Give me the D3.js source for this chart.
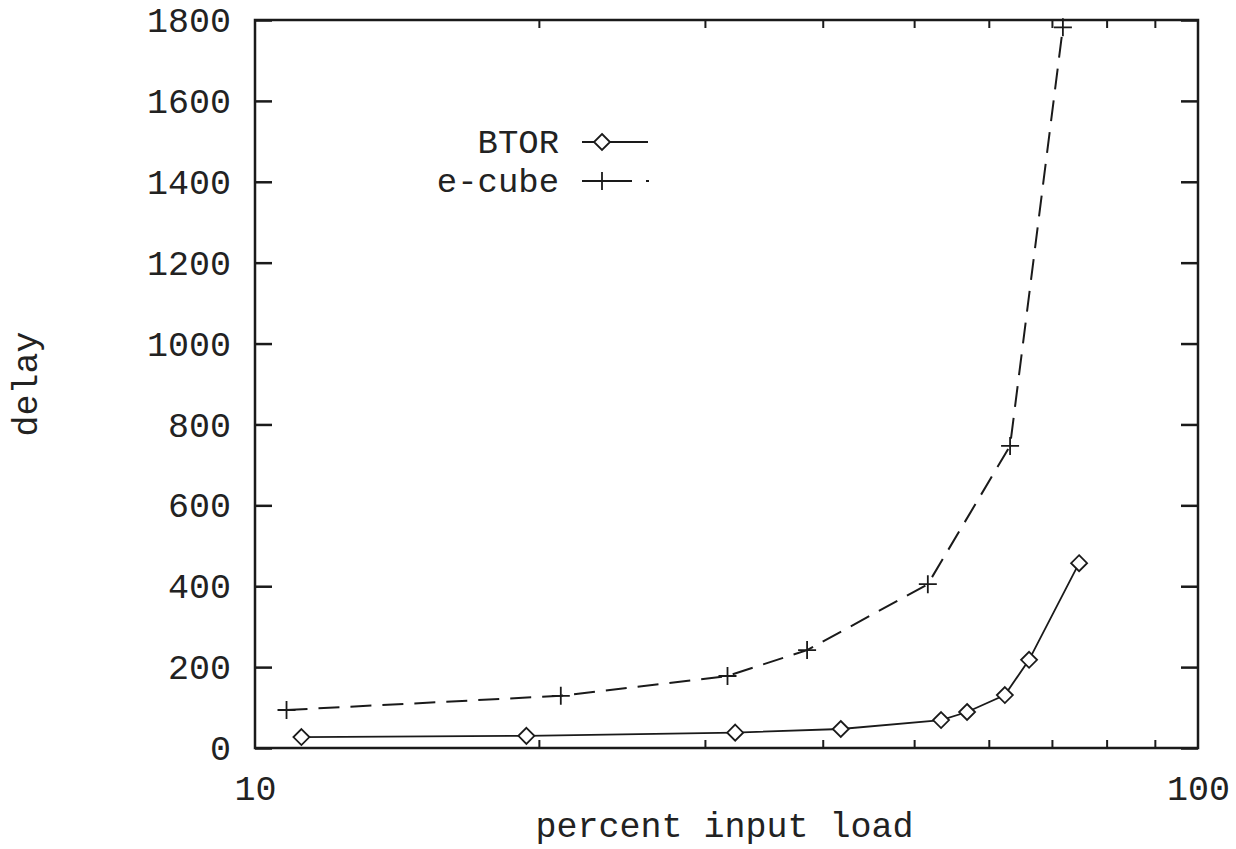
<!DOCTYPE html>
<html>
<head>
<meta charset="utf-8">
<script src="https://cdn.jsdelivr.net/npm/d3@7"></script>
<style>
  html, body { margin: 0; padding: 0; background: #fff; }
  svg { display: block; }
  text { font-family: "Liberation Mono", "Courier New", monospace; fill: #222; }
</style>
</head>
<body>
<svg id="chart" width="1236" height="849"></svg>
<script>
// ---- data ----
const btorLoad  = [11.2, 19.4, 32.3, 41.8, 53.4, 56.9, 62.4, 66.2, 74.8];
const btorDelay = [27, 30, 38, 47, 69, 89, 131, 218, 457];
const ecubeLoad  = [10.8, 21.1, 31.7, 38.5, 51.7, 63.2, 71.9];
const ecubeDelay = [94, 129, 178, 242, 405, 747, 1782];
const yTicks = [0, 200, 400, 600, 800, 1000, 1200, 1400, 1600, 1800];
const xMajorTicks = [10, 100];
const xMinorTicks = [20, 30, 40, 50, 60, 70, 80, 90];
const seriesNames = ["BTOR", "e-cube"];
const xTitle = "percent input load";
const yTitle = "delay";

// ---- layout ----
const L = 255, R = 1198, T = 20, B = 748;
const svg = d3.select("#chart");
const x = d3.scaleLog().domain([10, 100]).range([L, R]);
const y = d3.scaleLinear().domain([0, 1800]).range([B, T]);
const FS = 35;
const ink = "#1a1a1a";

// y axis left (inward ticks)
const yl = svg.append("g").attr("transform", `translate(${L},0)`)
  .call(d3.axisLeft(y).tickValues(yTicks).tickSize(-17).tickPadding(24).tickFormat(d3.format("d")));
yl.select(".domain").remove();
yl.selectAll("line").attr("stroke", ink).attr("stroke-width", 2.5);
yl.selectAll("text").attr("font-size", FS).attr("fill", "#222").attr("dy", "0.33em")
  .attr("font-family", "Liberation Mono");

// y axis right ticks
const yr = svg.append("g").attr("transform", `translate(${R},0)`)
  .call(d3.axisRight(y).tickValues(yTicks).tickSize(-17).tickFormat(""));
yr.select(".domain").remove();
yr.selectAll("line").attr("stroke", ink).attr("stroke-width", 2.5);

// x axis bottom
const xb = svg.append("g").attr("transform", `translate(0,${B})`)
  .call(d3.axisBottom(x).tickValues(xMinorTicks).tickSize(-8).tickFormat(""));
xb.select(".domain").remove();
xb.selectAll("line").attr("stroke", ink).attr("stroke-width", 2);
const xbl = svg.append("g").attr("transform", `translate(0,${B})`)
  .call(d3.axisBottom(x).tickValues(xMajorTicks).tickSize(0).tickPadding(27).tickFormat(d3.format("d")));
xbl.select(".domain").remove();
xbl.selectAll("text").attr("font-size", FS).attr("fill", "#222").attr("font-family", "Liberation Mono");

// x axis top ticks
const xt = svg.append("g").attr("transform", `translate(0,${T})`)
  .call(d3.axisTop(x).tickValues(xMinorTicks).tickSize(-8).tickFormat(""));
xt.select(".domain").remove();
xt.selectAll("line").attr("stroke", ink).attr("stroke-width", 2);

// frame
svg.append("rect").attr("x", L).attr("y", T).attr("width", R - L).attr("height", B - T)
  .attr("fill", "none").attr("stroke", ink).attr("stroke-width", 2.5);

// titles
svg.append("text").attr("x", (L + R) / 2 - 2).attr("y", 837).attr("text-anchor", "middle")
  .attr("font-size", FS).text(xTitle);
svg.append("text").attr("transform", `translate(37,${(T + B) / 2}) rotate(-90)`)
  .attr("text-anchor", "middle").attr("font-size", FS).text(yTitle);

// lines
const line = d3.line().x(d => x(d[0])).y(d => y(d[1]));
const btor = btorLoad.map((v, i) => [v, btorDelay[i]]);
const ecube = ecubeLoad.map((v, i) => [v, ecubeDelay[i]]);

svg.append("path").datum(ecube).attr("d", line).attr("fill", "none")
  .attr("stroke", ink).attr("stroke-width", 2).attr("stroke-dasharray", "21,11");
svg.append("path").datum(btor).attr("d", line).attr("fill", "none")
  .attr("stroke", ink).attr("stroke-width", 1.8);

// markers
const dia = 8, plus = 9;
function diamond(g, cx, cy) {
  g.append("path").attr("d", `M${cx},${cy - dia}L${cx + dia},${cy}L${cx},${cy + dia}L${cx - dia},${cy}Z`)
    .attr("fill", "#fff").attr("stroke", ink).attr("stroke-width", 1.8);
}
function plusMark(g, cx, cy) {
  g.append("path").attr("d", `M${cx - plus},${cy}H${cx + plus}M${cx},${cy - plus}V${cy + plus}`)
    .attr("stroke", ink).attr("stroke-width", 1.8).attr("fill", "none");
}
const mk = svg.append("g");
ecube.forEach(d => plusMark(mk, x(d[0]), y(d[1])));
btor.forEach(d => diamond(mk, x(d[0]), y(d[1])));

// legend
const lg = svg.append("g");
lg.append("text").attr("x", 559).attr("y", 153).attr("text-anchor", "end").attr("font-size", FS * 0.97).text(seriesNames[0]);
lg.append("text").attr("x", 559).attr("y", 192).attr("text-anchor", "end").attr("font-size", FS * 0.97).text(seriesNames[1]);
lg.append("line").attr("x1", 582).attr("x2", 648).attr("y1", 142).attr("y2", 142)
  .attr("stroke", ink).attr("stroke-width", 1.8);
diamond(lg, 602, 142);
lg.append("line").attr("x1", 582).attr("x2", 649).attr("y1", 181).attr("y2", 181)
  .attr("stroke", ink).attr("stroke-width", 1.8).attr("stroke-dasharray", "50,14,3");
plusMark(lg, 602, 181);
</script>
</body>
</html>
